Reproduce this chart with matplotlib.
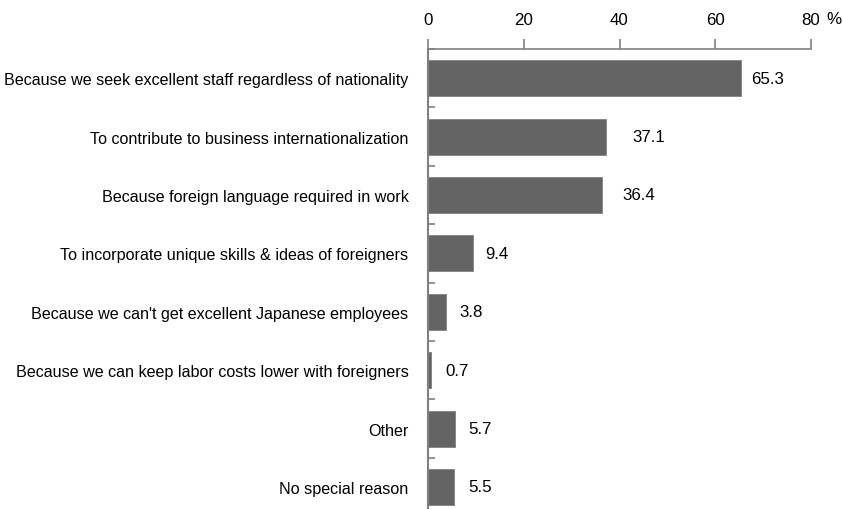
import matplotlib.pyplot as plt
from matplotlib.ticker import FixedLocator
import matplotlib.transforms as mtransforms

plt.rcParams['font.family'] = ['Liberation Sans', 'DejaVu Sans']

reasons = [
    'Because we seek excellent staff regardless of nationality',
    'To contribute to business internationalization',
    'Because foreign language required in work',
    'To incorporate unique skills & ideas of foreigners',
    "Because we can't get excellent Japanese employees",
    'Because we can keep labor costs lower with foreigners',
    'Other',
    'No special reason',
]
shares = [65.3, 37.1, 36.4, 9.4, 3.8, 0.7, 5.7, 5.5]
xticks = [0, 20, 40, 60, 80]

# label gap from bar end, in pixels (as placed in the original)
label_gap = [11, 27, 20, 12, 13, 14, 13, 14]

W, H = 843, 510
fig = plt.figure(figsize=(W / 100, H / 100), dpi=100)
top_px, left_px, right_px = 50, 428, 811
ax = fig.add_axes([left_px / W, 0, (right_px - left_px) / W, 1 - top_px / H])

slot = 58.4
n_visible = (H - top_px) / slot
ypos = list(range(len(reasons)))
ax.barh(ypos, shares, height=36 / slot, color='#646464', edgecolor='#808080', linewidth=0.6)
ax.set_ylim(-0.5 + n_visible, -0.5)
ax.set_xlim(0, 80)

grey = '#808080'
for s in ['right', 'bottom']:
    ax.spines[s].set_visible(False)
ax.spines['top'].set_color(grey)
ax.spines['left'].set_color(grey)
ax.spines['top'].set_linewidth(1.2)
ax.spines['left'].set_linewidth(1.5)

fs_lab = 11.6
fs_num = 12.2
ax.xaxis.tick_top()
ax.set_xticks(xticks)
ax.set_xticklabels([str(t) for t in xticks])
ax.tick_params(axis='x', direction='out', length=7, width=1.2, color=grey,
               labelsize=fs_num, pad=9)
ax.set_yticks(ypos)
ax.set_yticklabels(reasons)
ax.tick_params(axis='y', which='major', length=0, labelsize=fs_lab, pad=14)
ax.yaxis.set_minor_locator(FixedLocator([i + 0.5 for i in range(-1, len(reasons))]))
ax.tick_params(axis='y', which='minor', direction='in', length=5, width=1.2, color=grey)

fig.text(826 / W, 1 - 20 / H, '%', fontsize=fs_num, ha='left', va='center')

for y, v, g in zip(ypos, shares, label_gap):
    off = mtransforms.offset_copy(ax.transData, fig=fig, x=g, y=0, units='dots')
    ax.text(v, y, f'{v:.1f}', transform=off, ha='left', va='center', fontsize=fs_num)

fig.savefig('out.png', dpi=100)
